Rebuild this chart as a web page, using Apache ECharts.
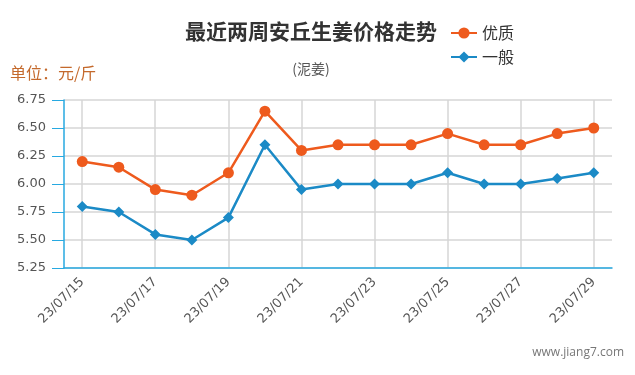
<!DOCTYPE html>
<html>
<head>
<meta charset="utf-8">
<script src="https://cdn.jsdelivr.net/npm/echarts@6/dist/echarts.min.js"></script>
<style>
  html, body { margin: 0; padding: 0; background: #fff; }
  #main { width: 635px; height: 375px; }
</style>
</head>
<body>
<div id="main"></div>
<script>
const dates = ["23/07/15", "23/07/16", "23/07/17", "23/07/18", "23/07/19", "23/07/20", "23/07/21", "23/07/22",
  "23/07/23", "23/07/24", "23/07/25", "23/07/26", "23/07/27", "23/07/28", "23/07/29"];
const good = [6.20, 6.15, 5.95, 5.90, 6.10, 6.65, 6.30, 6.35, 6.35, 6.35, 6.45, 6.35, 6.35, 6.45, 6.50];
const normal = [5.80, 5.75, 5.55, 5.50, 5.70, 6.35, 5.95, 6.00, 6.00, 6.00, 6.10, 6.00, 6.00, 6.05, 6.10];

const chart = echarts.init(document.getElementById("main"));
const axisBlue = "#27a9e1";
const gridGray = "#d6d6d6";
const font = "'Noto Sans CJK SC', 'DejaVu Sans', sans-serif";
const numFont = "'DejaVu Sans', sans-serif";

const option = {
  animation: false,
  textStyle: { fontFamily: font },
  title: [
    {
      text: "最近两周安丘生姜价格走势",
      left: 311, top: 21, textAlign: "center", padding: 0,
      textStyle: { fontSize: 21, fontWeight: "bold", color: "#333", fontFamily: font }
    },
    {
      text: "(泥姜)",
      left: 311, top: 62, textAlign: "center", padding: 0,
      textStyle: { fontSize: 14, fontWeight: "normal", color: "#555", fontFamily: font }
    },
    {
      text: "单位：元/斤",
      left: 10, top: 65, padding: 0,
      textStyle: { fontSize: 16, fontWeight: "normal", color: "#c4692c", fontFamily: font }
    },
    {
      text: "www.jiang7.com",
      right: 11, top: 347, padding: 0,
      textStyle: { fontSize: 12, fontWeight: "normal", color: "#777", fontFamily: "'Open Sans', sans-serif" }
    }
  ],
  legend: {
    orient: "vertical",
    left: 450, top: 25, padding: 0,
    itemWidth: 26, itemHeight: 14, itemGap: 8,
    textStyle: { fontSize: 16, color: "#333", fontFamily: font },
    data: ["优质", "一般"]
  },
  grid: [
    { left: 64, right: 23, top: 100, bottom: 107 },
    // same rows, spanning category centres only: carries the vertical grid lines
    { left: 82, right: 41, top: 100, bottom: 107 }
  ],
  xAxis: [
    {
      type: "category",
      gridIndex: 0,
      data: dates,
      axisLine: { lineStyle: { color: axisBlue, width: 1.5 } },
      axisTick: { alignWithLabel: true, interval: 1, length: 12, lineStyle: { color: axisBlue } },
      axisLabel: { interval: 1, rotate: 45, color: "#555", fontSize: 13, margin: 12, fontFamily: numFont },
      splitLine: { show: false }
    },
    {
      type: "category",
      gridIndex: 1,
      data: dates,
      boundaryGap: false,
      axisLine: { show: false },
      axisTick: { show: false },
      axisLabel: { show: false },
      splitLine: { show: true, interval: 1, lineStyle: { color: gridGray, width: 1.5 } }
    }
  ],
  yAxis: [
    {
      type: "value",
      gridIndex: 0,
      min: 5.25, max: 6.75, interval: 0.25,
      axisLine: { show: true, lineStyle: { color: axisBlue, width: 1.5 } },
      axisTick: { show: true, length: 12, lineStyle: { color: axisBlue } },
      axisLabel: { color: "#555", fontSize: 13, margin: 18, formatter: v => v.toFixed(2), fontFamily: numFont },
      splitLine: { lineStyle: { color: gridGray, width: 1.5 } }
    },
    {
      type: "value",
      gridIndex: 1,
      min: 5.25, max: 6.75, interval: 0.25,
      show: false,
      splitLine: { show: false }
    }
  ],
  series: [
    {
      name: "优质", type: "line", data: good,
      xAxisIndex: 0, yAxisIndex: 0,
      symbol: "circle", symbolSize: 11,
      itemStyle: { color: "#ee5a1d" },
      lineStyle: { width: 2.5, color: "#ee5a1d" },
      z: 3
    },
    {
      name: "一般", type: "line", data: normal,
      xAxisIndex: 0, yAxisIndex: 0,
      symbol: "diamond", symbolSize: 11,
      itemStyle: { color: "#1b8ac6" },
      lineStyle: { width: 2.5, color: "#1b8ac6" },
      z: 3
    }
  ]
};

chart.setOption(option);
</script>
</body>
</html>
